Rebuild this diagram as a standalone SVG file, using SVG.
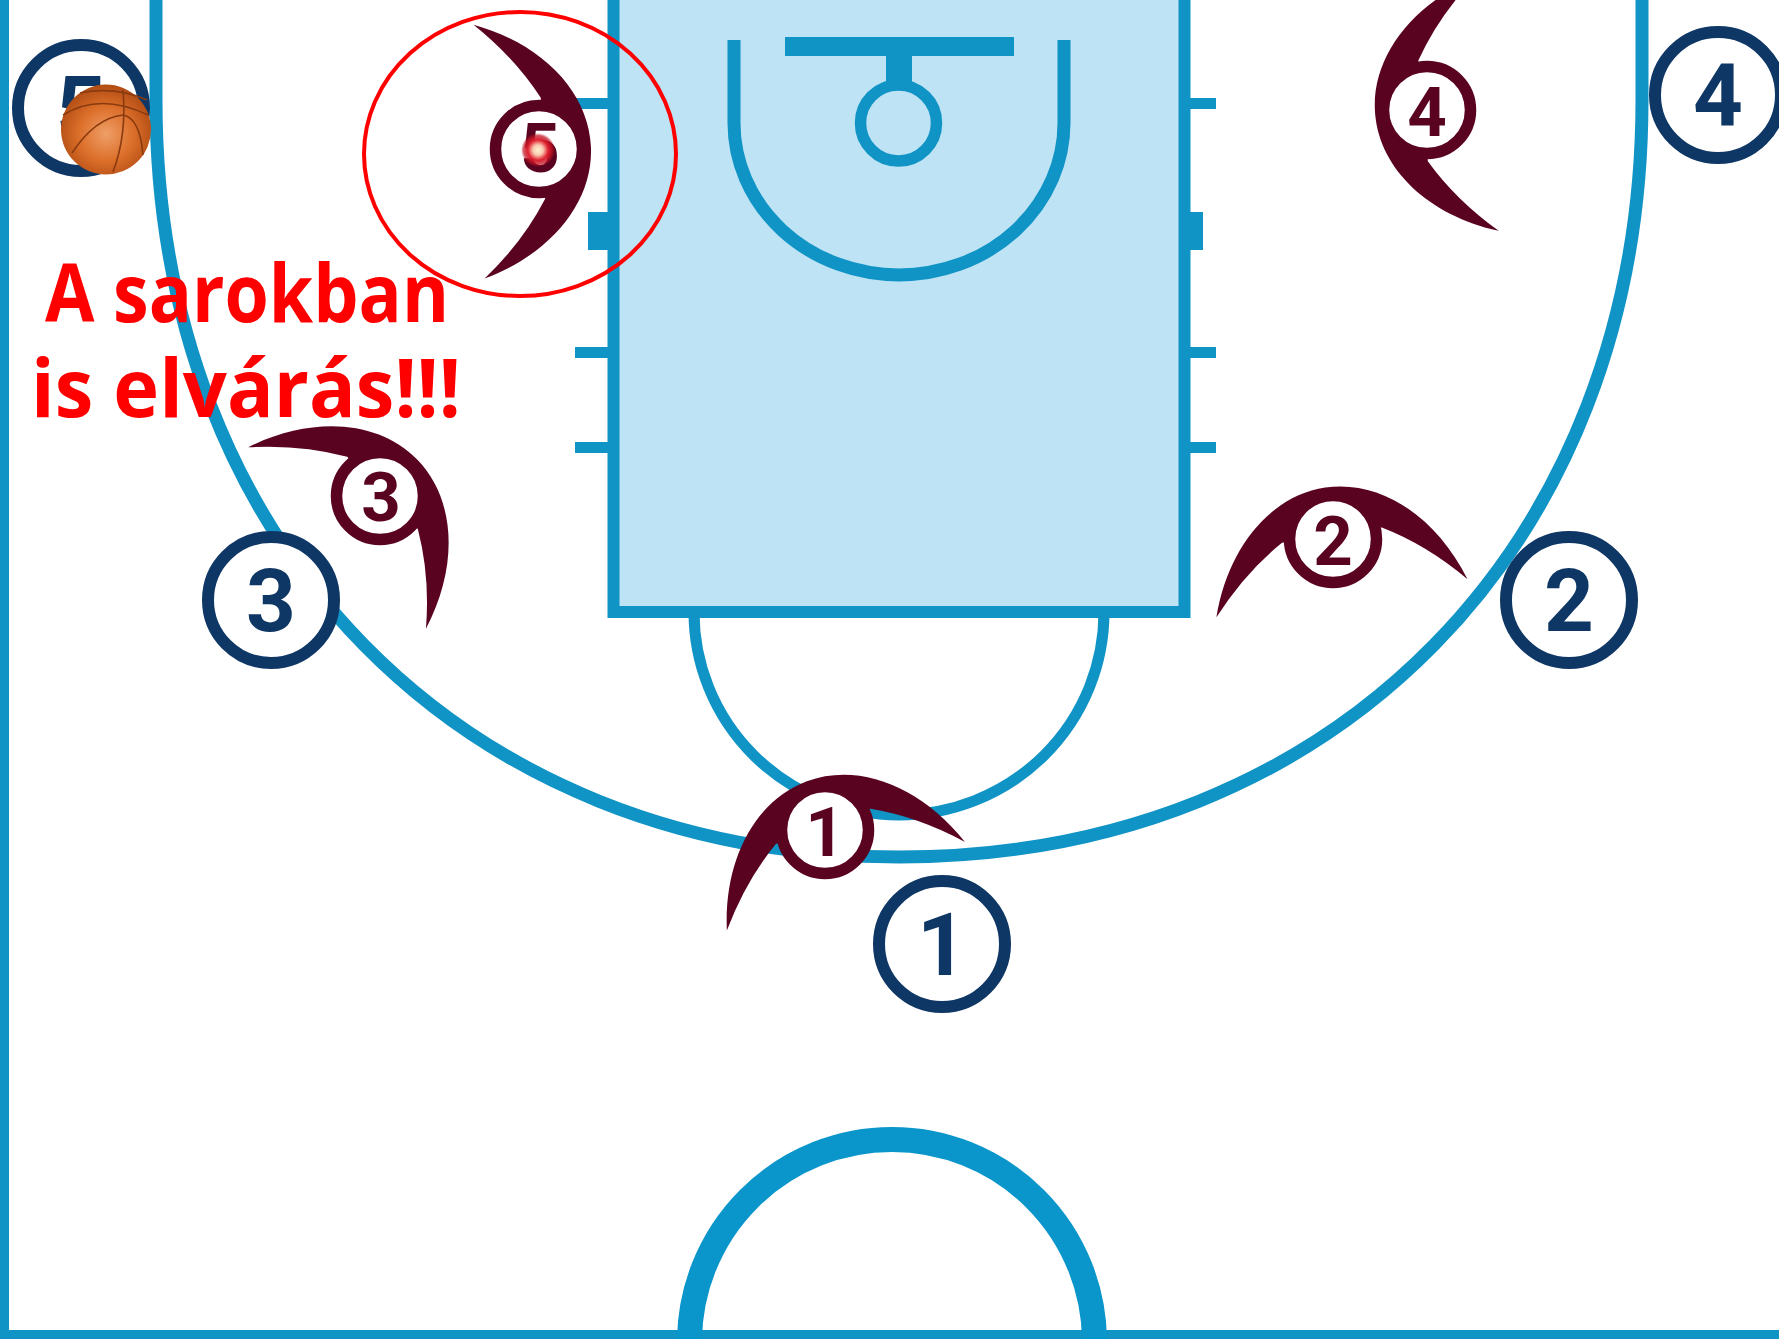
<svg xmlns="http://www.w3.org/2000/svg" width="1779" height="1339" viewBox="0 0 1779 1339">
<style>
.court{fill:none;stroke:#1093c5;stroke-width:13}
.solid{fill:#1093c5}
.off{fill:#fff;stroke:#0e3765;stroke-width:12}
.offt{fill:#0e3765;font:700 87px Roboto,sans-serif;text-anchor:middle}
.def{fill:#fff;stroke:#5a0320;stroke-width:11.5}
.deft{fill:#5a0320;font:700 69px Roboto,sans-serif;text-anchor:middle}
.cres{fill:#5a0320}
.note{fill:#f00;font-family:"Open Sans",sans-serif;font-weight:700;font-size:81px}
</style>
<defs>
<path id="crescent" d="M-127 60C-105 -8 -55 -52 0 -52C55 -52 105 -8 127 60Q92 20 50 -4L-51 -4Q-92 20 -127 60Z"/>
<radialGradient id="ballg" cx="0.5" cy="0.55" r="0.6"><stop offset="0" stop-color="#ef9f68"/><stop offset="0.5" stop-color="#dc6f2a"/><stop offset="1" stop-color="#a8450f"/></radialGradient>
<radialGradient id="glow"><stop offset="0" stop-color="#fff3d0"/><stop offset="0.3" stop-color="#f9c8b0"/><stop offset="0.6" stop-color="#e02030"/><stop offset="0.85" stop-color="#c01020" stop-opacity=".7"/><stop offset="1" stop-color="#c01020" stop-opacity="0"/></radialGradient>
</defs>
<rect width="1779" height="1339" fill="#fff"/>
<g id="court">
<rect x="613.5" y="-10" width="571" height="622" fill="#bde3f5" stroke="#1093c5" stroke-width="12"/>
<path class="court" d="M156 -5V100C156 544 463 857 899 857C1335 857 1642 544 1642 100V-5"/>
<path class="court" style="stroke-width:11" d="M694 612A205 203 0 0 0 1104 612"/>
<path class="court" d="M734 40V123A165 152 0 0 0 1064 123V40"/>
<circle class="court" style="stroke-width:11.5" cx="898.5" cy="123" r="38"/>
<rect class="solid" x="785" y="37" width="229" height="19"/>
<rect class="solid" x="886" y="56" width="26" height="30"/>
<rect class="solid" x="0" y="0" width="9" height="1339"/>
<rect class="solid" x="0" y="1330" width="1779" height="9"/>
<path class="court" style="stroke-width:25;stroke:#0a96cb" d="M689.5 1342A202.5 202.5 0 0 1 1094.5 1342"/>
<path class="solid" d="M575 98H608V109H575ZM588 212H608V250H588ZM575 347H608V358H575ZM575 442H608V453H575ZM1190 98H1216V109H1190ZM1190 212H1203V250H1190ZM1190 347H1216V358H1190ZM1190 442H1216V453H1190Z"/>
</g>
<g id="offense-1"><circle class="off" cx="942" cy="944" r="63"/><text class="offt" x="942" y="975">1</text></g>
<g id="offense-2"><circle class="off" cx="1569" cy="600" r="63"/><text class="offt" x="1569" y="631">2</text></g>
<g id="offense-3"><circle class="off" cx="271" cy="600" r="63"/><text class="offt" x="271" y="631">3</text></g>
<g id="offense-4"><circle class="off" cx="1718" cy="95" r="63"/><text class="offt" x="1718" y="126">4</text></g>
<g id="offense-5"><circle class="off" cx="81" cy="108" r="63"/><text class="offt" x="81" y="138">5</text></g>
<g id="defender-1"><use href="#crescent" class="cres" transform="translate(825 830) rotate(-20.4)"/><circle class="def" cx="825" cy="830" r="43.5"/><text class="deft" x="825" y="856">1</text></g>
<g id="defender-2"><use href="#crescent" class="cres" transform="translate(1333 539) rotate(-8.6)"/><circle class="def" cx="1333" cy="539" r="43.5"/><text class="deft" x="1333" y="565">2</text></g>
<g id="defender-3"><use href="#crescent" class="cres" transform="translate(380 496) rotate(45.6)"/><circle class="def" cx="380" cy="496" r="43.5"/><text class="deft" x="381" y="521">3</text></g>
<g id="defender-4"><use href="#crescent" class="cres" transform="translate(1427 110) rotate(-95.4)"/><circle class="def" cx="1427" cy="110" r="43.5"/><text class="deft" x="1427" y="136">4</text></g>
<g id="defender-5"><use href="#crescent" class="cres" transform="translate(539 149) rotate(87.5)"/><circle class="def" cx="539" cy="149" r="43.5"/><text class="deft" x="540" y="172">5</text><circle cx="538" cy="150" r="17" fill="url(#glow)"/></g>
<g id="ball"><circle cx="106" cy="129.500" r="45" fill="url(#ballg)"/><path fill="none" stroke="#8a3a10" stroke-width="1.6" d="M63 115Q100 92 148 115M123 90Q127 135 113 172M72 153Q95 118 123 115Q140 118 143 155M80 93Q115 86 147 100"/></g>
<g id="connectors"></g>
<g id="highlight"><ellipse cx="520" cy="154" rx="156" ry="142" fill="none" stroke="#f00" stroke-width="4"/></g>
<g id="note"><text class="note" x="45" y="322" textLength="404" lengthAdjust="spacingAndGlyphs">A sarokban</text><text class="note" x="31" y="417" textLength="430" lengthAdjust="spacingAndGlyphs">is elvárás!!!</text></g>
</svg>
